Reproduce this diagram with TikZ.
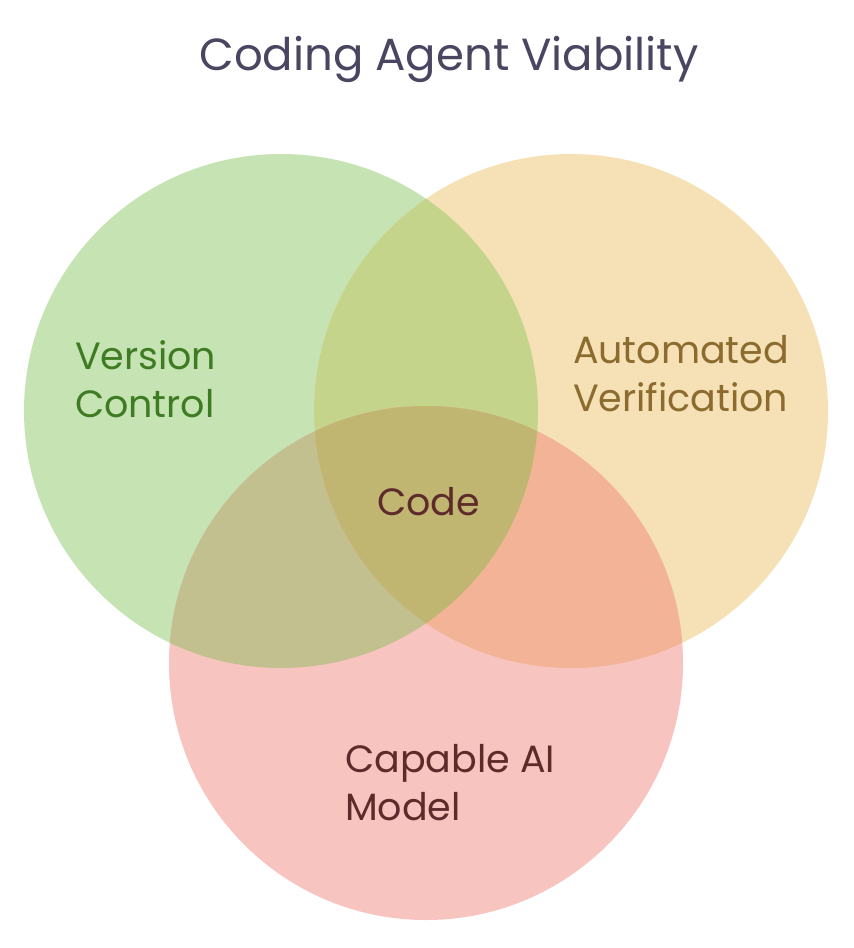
\documentclass[tikz,border=0pt]{standalone}
\usepackage{fontspec}
\setmainfont{Poppins}
\definecolor{gfill}{HTML}{C5E3B3}
\definecolor{yfill}{HTML}{F6E0B5}
\definecolor{rfill}{HTML}{F7C4C0}
\definecolor{gyfill}{HTML}{C4D48A}
\definecolor{grfill}{HTML}{C2C08F}
\definecolor{yrfill}{HTML}{F2B396}
\definecolor{allfill}{HTML}{C0B672}
\definecolor{gtext}{HTML}{3E7B22}
\definecolor{ytext}{HTML}{8B6B2E}
\definecolor{rtext}{HTML}{5E2B2B}
\definecolor{ttext}{HTML}{4A4560}
\tikzset{
  lbl/.style={inner sep=0pt, outer sep=0pt, align=left, font=\fontsize{38}{48}\selectfont},
  ttl/.style={inner sep=0pt, outer sep=0pt, font=\fontsize{45}{54}\selectfont, text=ttext}
}
\begin{document}
\begin{tikzpicture}[x=1pt,y=-1pt]
\useasboundingbox (0,0) rectangle (854,948);
\def\R{257}
\fill[gfill] (281,411) circle (\R);
\fill[yfill] (571,411) circle (\R);
\fill[rfill] (426,663) circle (\R);
\begin{scope}
  \clip (281,411) circle (\R);
  \fill[gyfill] (571,411) circle (\R);
\end{scope}
\begin{scope}
  \clip (281,411) circle (\R);
  \fill[grfill] (426,663) circle (\R);
\end{scope}
\begin{scope}
  \clip (571,411) circle (\R);
  \fill[yrfill] (426,663) circle (\R);
\end{scope}
\begin{scope}
  \clip (281,411) circle (\R);
  \clip (571,411) circle (\R);
  \fill[allfill] (426,663) circle (\R);
\end{scope}
\node[ttl, anchor=base] (title) at (449,70) {Coding Agent Viability};
\node[lbl, text=gtext, anchor=base west] (vc) at (75,417) {Version\\Control};
\node[lbl, text=ytext, anchor=base west] (av) at (573,411) {Automated\\Verification};
\node[lbl, text=rtext, anchor=base west] (code) at (377,515) {Code};
\node[lbl, text=rtext, anchor=base west] (cam) at (345,820) {Capable AI\\Model};
\end{tikzpicture}
\end{document}
